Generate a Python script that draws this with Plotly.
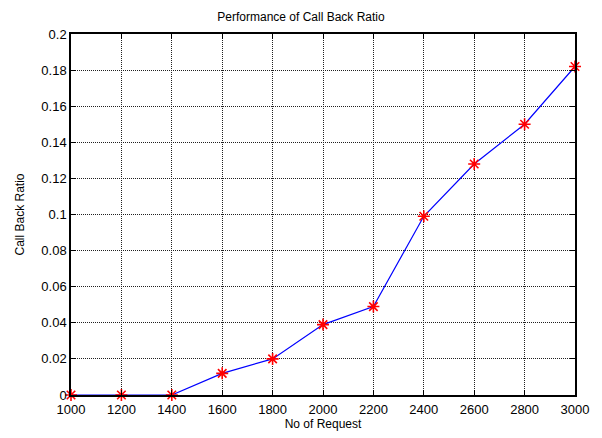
import plotly.graph_objects as go

requests = [1000, 1200, 1400, 1600, 1800, 2000, 2200, 2400, 2600, 2800, 3000]
call_back_ratio = [0, 0, 0, 0.012, 0.020, 0.039, 0.049, 0.099, 0.128, 0.150, 0.182]

x_ticks = list(range(1000, 3001, 200))
y_ticks = [0, 0.02, 0.04, 0.06, 0.08, 0.1, 0.12, 0.14, 0.16, 0.18, 0.2]
y_tick_text = ["0", "0.02", "0.04", "0.06", "0.08", "0.1", "0.12", "0.14", "0.16", "0.18", "0.2"]

font_family = "Arial, Liberation Sans"

fig = go.Figure()
fig.add_trace(go.Scatter(
    x=requests, y=call_back_ratio, mode="lines",
    line=dict(color="#0000ff", width=1.2),
    hoverinfo="skip", cliponaxis=False,
))
fig.add_trace(go.Scatter(
    x=requests, y=call_back_ratio, mode="markers",
    marker=dict(symbol="asterisk-open", size=10, color="#ff0000",
                line=dict(color="#ff0000", width=1.6)),
    cliponaxis=False,
))

axis_common = dict(
    showline=True, linecolor="black", linewidth=1.5, mirror="ticks",
    ticks="inside", ticklen=5, tickcolor="black", tickwidth=1,
    showgrid=True, gridcolor="#202020", gridwidth=1, griddash="1px,1px",
    zeroline=False,
    tickfont=dict(family=font_family, size=13, color="black"),
)

fig.update_xaxes(
    range=[1000, 3000], tickvals=x_ticks, ticklabelstandoff=2,
    title=dict(text="No of Request", font=dict(family=font_family, size=12, color="black"), standoff=0),
    **axis_common,
)
fig.update_yaxes(
    range=[0, 0.2], tickvals=y_ticks, ticktext=y_tick_text,
    title=dict(text="Call Back Ratio", font=dict(family=font_family, size=12, color="black"), standoff=14),
    **axis_common,
)

fig.update_layout(
    width=602, height=438,
    margin=dict(l=71, r=27, t=34, b=43),
    paper_bgcolor="white", plot_bgcolor="white",
    showlegend=False,
    title=dict(text="Performance of Call Back Ratio", x=0.5, xanchor="center",
               y=1 - 17 / 438, yanchor="middle",
               font=dict(family=font_family, size=12, color="black")),
)

fig.write_html("out.html")
